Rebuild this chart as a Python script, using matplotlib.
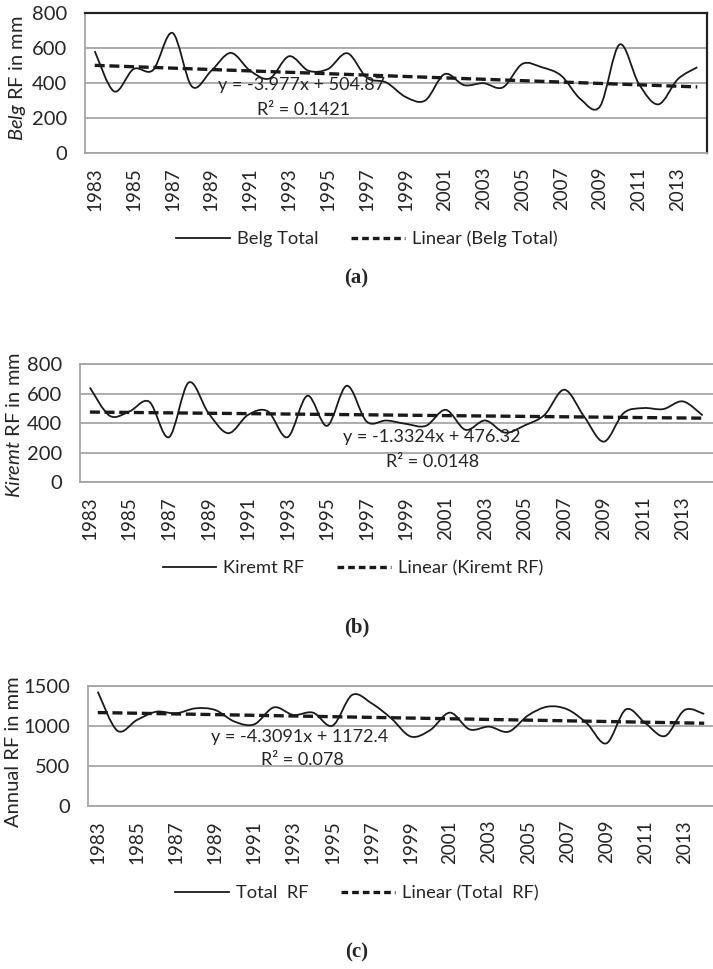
import matplotlib
matplotlib.use("Agg")
import matplotlib.pyplot as plt
import numpy as np
from matplotlib.path import Path
from matplotlib.patches import PathPatch
from matplotlib.lines import Line2D

plt.rcParams['font.family'] = ['Lato', 'DejaVu Sans']
plt.rcParams['mathtext.fontset'] = 'custom'
plt.rcParams['mathtext.it'] = 'Lato:italic'
plt.rcParams['mathtext.rm'] = 'Lato'

years = list(range(1983, 2015))
tick_years = [str(y) for y in range(1983, 2014, 2)]

belg = [582, 352, 480, 474, 686, 380, 470, 572, 470, 426, 553, 470, 480, 570, 430, 403,
        320, 300, 451, 388, 399, 375, 509, 490, 442, 307, 267, 620, 394, 278, 422, 490]
kiremt = [641, 450, 479, 545, 305, 675, 468, 332, 456, 480, 305, 585, 382, 653, 411, 418,
          395, 382, 490, 355, 418, 336, 385, 456, 626, 445, 275, 468, 502, 495, 547, 452]
annual = [1429, 941, 1075, 1179, 1158, 1221, 1200, 1054, 1021, 1233, 1138, 1167, 1004, 1388, 1283, 1096,
          868, 950, 1167, 958, 992, 929, 1133, 1242, 1208, 1033, 783, 1208, 1033, 875, 1200, 1150]

trend_a = (-3.977, 504.87)
trend_b = (-1.3324, 476.32)
trend_c = (-4.3091, 1172.4)

fig = plt.figure(figsize=(7.13, 9.69), dpi=100)
W, H = 713.0, 969.0

def axes_px(l, r, t, b):
    return fig.add_axes([l / W, 1 - b / H, (r - l) / W, (b - t) / H])

def smooth_path(xs, ys):
    xs = np.asarray(xs, float); ys = np.asarray(ys, float)
    n = len(xs)
    verts = [(xs[0], ys[0])]
    codes = [Path.MOVETO]
    for i in range(n - 1):
        p0 = i - 1 if i > 0 else 0
        p3 = i + 2 if i + 2 < n else n - 1
        c1 = (xs[i] + (xs[i + 1] - xs[p0]) / 6, ys[i] + (ys[i + 1] - ys[p0]) / 6)
        c2 = (xs[i + 1] - (xs[p3] - xs[i]) / 6, ys[i + 1] - (ys[p3] - ys[i]) / 6)
        verts += [c1, c2, (xs[i + 1], ys[i + 1])]
        codes += [Path.CURVE4] * 3
    return Path(verts, codes)

grid_col = '#a6a6a6'
txt_col = '#262626'
dash = (0, (3.0, 1.4))

def panel(ax, data, trend, ymax, ystep, ylabel, ylab_xy, leg_labels, eq, r2, eq_xy, r2_xy,
          leg_y, leg_x, cap, cap_y, dark_frame=False):
    x = np.arange(len(years))
    ax.set_xlim(-0.5, len(years) - 0.5)
    ax.set_ylim(0, ymax)
    ax.set_yticks(np.arange(0, ymax + 1, ystep))
    ax.yaxis.grid(True, color=grid_col, lw=1.3)
    ax.set_axisbelow(True)
    ax.set_xticks(x[::2])
    ax.set_xticklabels(tick_years, rotation=90, fontsize=13.5, color=txt_col)
    ax.tick_params(length=0)
    ax.tick_params(axis='x', pad=10)
    ax.tick_params(axis='y', labelsize=14.5, pad=13, labelcolor=txt_col)
    for s in ax.spines.values():
        s.set_color(grid_col); s.set_linewidth(1.3)
    if dark_frame:
        ax.spines['top'].set_color('#222222'); ax.spines['top'].set_linewidth(1.6)
        ax.spines['right'].set_color('#222222'); ax.spines['right'].set_linewidth(1.6)
    else:
        ax.spines['right'].set_visible(False)
    patch = PathPatch(smooth_path(x, data), facecolor='none', edgecolor='#1a1a1a', lw=1.3, zorder=3)
    ax.add_patch(patch)
    yr = np.arange(1, len(years) + 1)
    ax.plot(x, trend[0] * yr + trend[1], color='#1a1a1a', lw=2.4, ls=dash, zorder=4)
    fig.text(eq_xy[0] / W, 1 - eq_xy[1] / H, eq, ha='center', va='center', fontsize=13, color=txt_col)
    fig.text(r2_xy[0] / W, 1 - r2_xy[1] / H, r2, ha='center', va='center', fontsize=13, color=txt_col)
    fig.text(ylab_xy[0] / W, 1 - ylab_xy[1] / H, ylabel, rotation=90, ha='center', va='center',
             fontsize=14.5, color=txt_col)
    handles = [Line2D([], [], color='#1a1a1a', lw=1.3),
               Line2D([], [], color='#1a1a1a', lw=2.4, ls=(0, (2.0, 1.2)))]
    fig.legend(handles, leg_labels, loc='center', bbox_to_anchor=(leg_x / W, 1 - leg_y / H),
               ncol=2, frameon=False, fontsize=13.2, handlelength=2.9, columnspacing=1.8,
               handletextpad=0.4, labelcolor=txt_col)
    fig.text(0.5, 1 - cap_y / H, cap, ha='center', va='center', fontsize=15,
             family=['Liberation Serif'], weight='bold', color=txt_col)

ax1 = axes_px(85, 707, 13, 153)
panel(ax1, belg, trend_a, 800, 200, r'$\mathit{Belg}$ RF in mm', (18, 78),
      ['Belg Total', 'Linear (Belg Total)'],
      'y = -3.977x + 504.87', 'R² = 0.1421', (302, 85), (304, 110), 239, 367, '(a)', 278, dark_frame=True)

ax2 = axes_px(80, 712.6, 364, 482.3)
panel(ax2, kiremt, trend_b, 800, 200, r'$\mathit{Kiremt}$ RF in mm', (14, 425),
      ['Kiremt RF', 'Linear (Kiremt RF)'],
      'y = -1.3324x + 476.32', 'R² = 0.0148', (432, 437), (433, 462), 568, 353, '(b)', 627)

ax3 = axes_px(88, 714, 686, 806)
panel(ax3, annual, trend_c, 1500, 500, 'Annual RF in mm', (14, 752),
      ['Total  RF', 'Linear (Total  RF)'],
      'y = -4.3091x + 1172.4', 'R² = 0.078', (300, 737), (302, 760), 893, 357, '(c)', 952)

fig.savefig('out.png', dpi=100)
